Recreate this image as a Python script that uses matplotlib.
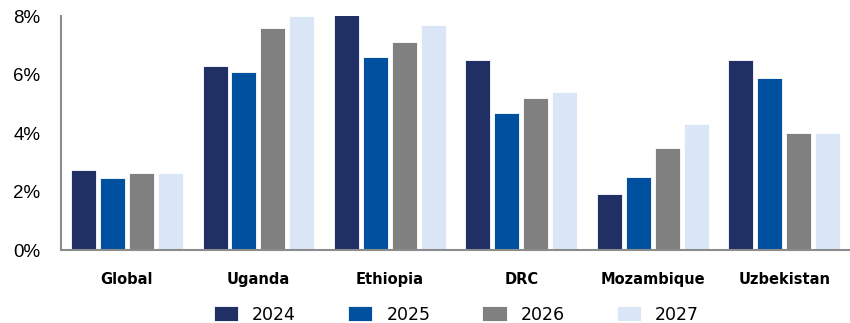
import numpy as np
import matplotlib.pyplot as plt
from matplotlib.ticker import FuncFormatter

countries = ['Global', 'Uganda', 'Ethiopia', 'DRC', 'Mozambique', 'Uzbekistan']
years = ['2024', '2025', '2026', '2027']
v2024 = [2.75, 6.3, 8.1, 6.5, 1.9, 6.5]
v2025 = [2.47, 6.1, 6.6, 4.7, 2.5, 5.9]
v2026 = [2.65, 7.6, 7.1, 5.2, 3.5, 4.0]
v2027 = [2.65, 8.0, 7.7, 5.4, 4.3, 4.0]
colors = ['#203064', '#0050A0', '#808080', '#DAE5F6']

fig = plt.figure(figsize=(8.5, 3.23), dpi=100)
ax = fig.add_axes([0.072, 0.226, 0.928, 0.724])

x = np.arange(len(countries))
step = 0.22
width = 0.19
for i, (vals, c, lab) in enumerate(zip([v2024, v2025, v2026, v2027], colors, years)):
    ax.bar(x + (i - 1.5) * step, vals, width, color=c, label=lab,
           edgecolor='white', linewidth=0.6)

ax.set_xlim(-0.5, 5.5)
ax.set_ylim(0, 8)
ax.set_yticks([0, 2, 4, 6, 8])
ax.yaxis.set_major_formatter(FuncFormatter(lambda v, p: f'{v:.0f}%'))
ax.set_xticks(x)
ax.set_xticklabels(countries, fontweight='bold', fontsize=10.5)
for t in ax.get_yticklabels():
    t.set_fontfamily('Liberation Sans')
ax.tick_params(axis='y', labelsize=13.5, length=0, pad=15)
ax.tick_params(axis='x', length=0, pad=16)

for s in ['top', 'right']:
    ax.spines[s].set_visible(False)
for s in ['left', 'bottom']:
    ax.spines[s].set_color('#8c8c8c')
    ax.spines[s].set_linewidth(1.5)

fig.legend(loc='lower center', bbox_to_anchor=(0.537, -0.05), ncol=4, frameon=False,
           fontsize=12.5, handlelength=1.4, handleheight=0.9, columnspacing=3.0,
           handletextpad=0.8)

fig.savefig('out.png', dpi=100)
